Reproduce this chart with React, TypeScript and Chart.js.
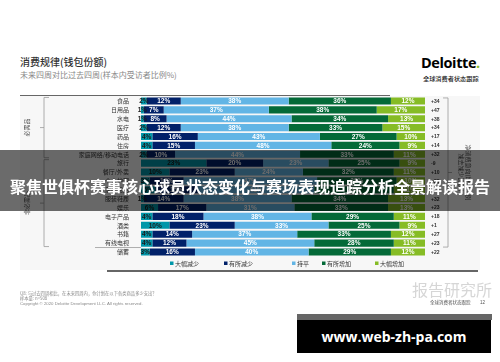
import React, { useEffect, useRef } from 'react';
import { Chart, registerables } from 'chart.js';

Chart.register(...registerables);

// ---------- data ----------
const categories = [
  '食品', '日用品', '水电', '医疗', '药品', '住房', '家庭网络/移动电话',
  '旅行', '餐厅/外卖', '个人护理', '家居用品', '服装鞋履', '娱乐', '电子产品',
  '酒类', '书籍', '有线电视', '储蓄',
];
const seriesNames = ['大幅减少', '有所减少', '持平', '有所增加', '大幅增加'];
const bigDecrease = [2, 1, 1, 2, 4, 4, 2, 23, 10, 3, 5, 1, 6, 4, 10, 4, 4, 3];
const someDecrease = [12, 7, 8, 12, 16, 15, 10, 20, 23, 12, 15, 14, 17, 18, 23, 14, 12, 16];
const flat = [38, 37, 44, 38, 43, 48, 44, 23, 24, 47, 41, 38, 31, 38, 33, 37, 45, 40];
const someIncrease = [36, 38, 34, 33, 27, 24, 33, 25, 32, 28, 28, 34, 33, 29, 25, 33, 28, 29];
const bigIncrease = [12, 17, 13, 15, 10, 9, 11, 9, 11, 10, 11, 13, 13, 11, 9, 12, 11, 12];
const netIntent = [34, 47, 38, 34, 17, 14, 32, -9, 10, 23, 19, 32, 23, 18, 1, 27, 23, 22];

// ---------- styles ----------
const COLORS = ['#0097a9', '#012169', '#62b5e5', '#046a38', '#86bc25'];
const LABEL_COLORS = ['#1a1a1a', '#ffffff', '#ffffff', '#ffffff', '#ffffff'];
const CJK = '"Noto Sans CJK SC", "Noto Sans", sans-serif';
const LAT = '"Liberation Sans", Arial, sans-serif';
const LEGEND_X = [170, 224, 292, 322, 375];

const overlayPlugin = {
  id: 'overlay',
  afterDatasetsDraw(chart: any) {
    const ctx = chart.ctx;
    const ys = chart.scales.y;
    const yPix = (i: number) => ys.getPixelForValue(i);
    ctx.save();
    // segment labels
    chart.data.datasets.forEach((ds: any, di: number) => {
      const meta = chart.getDatasetMeta(di);
      meta.data.forEach((bar: any, i: number) => {
        const p = bar.getProps(['x', 'y', 'base'], true);
        const cx = (p.x + p.base) / 2;
        ctx.fillStyle = LABEL_COLORS[di];
        ctx.font = `bold 6.5px ${LAT}`;
        ctx.textAlign = 'center';
        ctx.textBaseline = 'middle';
        ctx.fillText(ds.data[i] + '%', cx, p.y + 0.5);
      });
    });
    // net labels
    ctx.fillStyle = '#333';
    ctx.font = `bold 5px ${LAT}`;
    ctx.textAlign = 'left';
    netIntent.forEach((v, i) => {
      ctx.fillText((v > 0 ? '+' : '') + v, 431, yPix(i) + 0.5);
    });

    // brackets
    ctx.strokeStyle = '#9a9a9a';
    ctx.lineWidth = 0.8;
    const leftBracket = (a: number, b: number) => {
      const t = yPix(a) - 3.5;
      const bt = yPix(b) + 3.5;
      const m = (t + bt) / 2;
      ctx.beginPath();
      ctx.moveTo(49, t); ctx.lineTo(44, t); ctx.lineTo(44, bt); ctx.lineTo(49, bt);
      ctx.moveTo(44, m); ctx.lineTo(40, m);
      ctx.stroke();
      return m;
    };
    const m1 = leftBracket(0, 6);
    const m2 = leftBracket(7, 16);
    // right bracket
    const rt = yPix(0) - 3;
    const rb = yPix(16) + 4;
    const rm = (rt + rb) / 2;
    ctx.beginPath();
    ctx.moveTo(443, rt); ctx.lineTo(448, rt); ctx.lineTo(448, rb); ctx.lineTo(443, rb);
    ctx.moveTo(448, rm); ctx.lineTo(452, rm);
    ctx.stroke();
    // separator above savings
    const sy = (yPix(16) + yPix(17)) / 2;
    ctx.beginPath();
    ctx.moveTo(95, sy); ctx.lineTo(141, sy);
    ctx.stroke();

    // bracket texts
    ctx.fillStyle = '#555';
    ctx.font = `6px ${CJK}`;
    ctx.textAlign = 'center';
    ctx.textBaseline = 'middle';
    const vtext = (txt: string, x: number, y: number, ang: number) => {
      ctx.save();
      ctx.translate(x, y);
      ctx.rotate(ang);
      ctx.fillText(txt, 0, 0);
      ctx.restore();
    };
    vtext('必需品', 27, m1, -Math.PI / 2);
    vtext('非必需品', 27, m2, -Math.PI / 2);
    vtext('净消费意向(增加比例', 468, rm, Math.PI / 2);
    vtext('减去减少比例)', 461, rm, Math.PI / 2);

    // legend
    ctx.font = `6px ${CJK}`;
    ctx.textAlign = 'left';
    chart.data.datasets.forEach((ds: any, di: number) => {
      const x = LEGEND_X[di];
      ctx.fillStyle = ds.backgroundColor;
      ctx.fillRect(x, 261.5, 3.5, 3.5);
      ctx.fillStyle = '#333';
      ctx.fillText(ds.label, x + 5, 263.5);
    });
    ctx.restore();
  },
};

function BarChart() {
  const ref = useRef<HTMLCanvasElement>(null);
  useEffect(() => {
    const series = [bigDecrease, someDecrease, flat, someIncrease, bigIncrease];
    const chart = new Chart(ref.current!, {
      type: 'bar',
      data: {
        labels: categories,
        datasets: series.map((d, i) => ({
          label: seriesNames[i],
          data: d,
          backgroundColor: COLORS[i],
          borderWidth: 0,
          categoryPercentage: 0.8,
          barPercentage: 1,
        })),
      },
      options: {
        indexAxis: 'y',
        responsive: false,
        animation: false,
        devicePixelRatio: 1,
        layout: { padding: { top: 96.5, right: 75, bottom: 105.6, left: 0 } },
        scales: {
          x: { stacked: true, min: 0, max: 100, display: false },
          y: {
            stacked: true,
            grid: { display: false },
            border: { display: false },
            ticks: { autoSkip: false, color: '#333', padding: 4, font: { size: 6, family: CJK } },
            afterFit: (s: any) => { s.width = 141; },
          },
        },
        plugins: { legend: { display: false }, tooltip: { enabled: false } },
      } as any,
      plugins: [overlayPlugin],
    });
    return () => chart.destroy();
  }, []);
  return <canvas ref={ref} width={500} height={362} style={{ position: 'absolute', left: 0, top: 0, width: 500, height: 362 }} />;
}

const abs = (s: React.CSSProperties): React.CSSProperties => ({ position: 'absolute', ...s });

export default function App() {
  return (
    <div style={{ position: 'fixed', left: 0, top: 0, width: 500, height: 362, background: '#fff', overflow: 'hidden', fontFamily: CJK }}>
      {/* panel */}
      <div style={abs({ left: 20, top: 96, width: 460, height: 174, background: '#f7f7f7' })} />
      <div style={abs({ left: 20, top: 94.5, width: 370, height: 1.5, background: '#666' })} />
      <div style={abs({ left: 107, top: 270, width: 371, height: 1.5, background: '#666' })} />
      {/* title */}
      <div style={abs({ left: 20, top: 56, fontSize: 10, fontWeight: 500, color: '#333', whiteSpace: 'nowrap', lineHeight: '12px' })}>消费规律(钱包份额)</div>
      <div style={abs({ left: 20, top: 70, fontSize: 8, color: '#888', whiteSpace: 'nowrap', lineHeight: '10px' })}>未来四周对比过去四周(样本内受访者比例%)</div>
      {/* logo */}
      <div style={abs({ left: 421, top: 54, fontSize: 14.5, fontWeight: 700, color: '#000', fontFamily: '"Open Sans", Lato, sans-serif', letterSpacing: -0.4, lineHeight: '18px', whiteSpace: 'nowrap' })}>
        Deloitte<span style={{ color: '#86bc25' }}>.</span>
      </div>
      <div style={abs({ left: 423, top: 74.5, fontSize: 6.2, color: '#222', fontWeight: 500, lineHeight: '8px', whiteSpace: 'nowrap' })}>全球消费者状态跟踪</div>

      <BarChart />

      {/* footer */}
      <div style={abs({ left: 20, top: 290.5, fontSize: 4.3, color: '#888', lineHeight: '5.2px', whiteSpace: 'nowrap' })}>
        <div>Q8: 与过去四周相比，在未来四周内，你计划在以下各类商品多少支出？</div>
        <div>样本量: n=508</div>
        <div style={{ fontFamily: LAT }}>Copyright © 2020 Deloitte Development LLC. All rights reserved.</div>
      </div>
      <div style={abs({ left: 412, top: 279, fontSize: 16, color: '#d6d6d6', lineHeight: '20px', whiteSpace: 'nowrap' })}>报告研究所</div>
      <div style={abs({ left: 430, top: 299, fontSize: 4.5, color: '#555', lineHeight: '6px', whiteSpace: 'nowrap' })}>全球消费者状态跟踪</div>
      <div style={abs({ left: 480, top: 300, fontSize: 4.5, color: '#555', lineHeight: '6px', fontFamily: LAT })}>12</div>

      {/* overlay banner */}
      <div style={abs({ left: 0, top: 150, width: 500, height: 61, background: 'rgba(0,0,0,0.58)' })} />
      <div style={abs({ left: 0, top: 175, width: 500, textAlign: 'center', fontSize: 16, fontWeight: 700, color: '#fff', lineHeight: '22px', whiteSpace: 'nowrap' })}>
        聚焦世俱杯赛事核心球员状态变化与赛场表现追踪分析全景解读报告
      </div>

      {/* site box */}
      <div style={abs({ left: 297, top: 314, width: 195, height: 6, background: '#666' })} />
      <div style={abs({ left: 297, top: 320, width: 194, height: 33, background: '#000', color: '#fff', fontFamily: '"Open Sans", "DejaVu Sans", sans-serif', fontWeight: 700, fontSize: 14, lineHeight: '33px', textAlign: 'center' })}>
        www.web-zh-pa.com
      </div>
    </div>
  );
}
